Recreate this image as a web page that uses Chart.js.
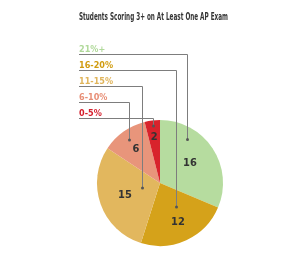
<!DOCTYPE html>
<html>
<head>
<meta charset="utf-8">
<script src="https://cdn.jsdelivr.net/npm/chart.js@4"></script>
<style>
  html, body { margin: 0; padding: 0; background: #fff; }
  #wrap { position: relative; width: 300px; height: 256px; }
</style>
</head>
<body>
<div id="wrap"><canvas id="pie-chart" width="300" height="256"></canvas></div>
<script>
// data
const title = "Students Scoring 3+ on At Least One AP Exam";
const categories = ["21%+", "16-20%", "11-15%", "6-10%", "0-5%"];
const counts = [16, 12, 15, 6, 2];
const colors = ["#b6dc9f", "#d5a21a", "#e2b75e", "#e8957b", "#d8232c"];
const labelColors = ["#b0d99a", "#d19c10", "#e0b45a", "#e88f76", "#d51f2d"];

// where each leader line lands inside its slice (fraction of slice angle, fraction of radius)
const leaderAngle = [0.28, 0.39, 0.54, 0.49, 0.5];
const leaderRadius = [0.81, 0.46, 0.30, 0.84, 0.91];
// radius fraction for the value labels
const valueRadius = [0.57, 0.68, 0.59, 0.66, 0.74];

const condensed = "'Liberation Sans Narrow', 'DejaVu Sans Condensed', sans-serif";

const overlay = {
    id: "overlay",
    afterDraw(chart) {
        const ctx = chart.ctx;
        const meta = chart.getDatasetMeta(0);
        ctx.save();

        // title
        ctx.fillStyle = "#353535";
        ctx.font = "bold 11px " + condensed;
        ctx.textAlign = "left";
        ctx.textBaseline = "alphabetic";
        ctx.fillText(title, 79, 19.5, 149);

        meta.data.forEach((arc, i) => {
            const p = arc.getProps(["x", "y", "startAngle", "endAngle", "outerRadius"], true);
            // value label
            const mid = (p.startAngle + p.endAngle) / 2;
            const rv = p.outerRadius * valueRadius[i];
            ctx.fillStyle = "#333";
            ctx.font = "bold 11px " + condensed;
            ctx.textAlign = "center";
            ctx.textBaseline = "middle";
            ctx.fillText(String(counts[i]), p.x + Math.cos(mid) * rv, p.y + Math.sin(mid) * rv);

            // leader line
            const a = p.startAngle + (p.endAngle - p.startAngle) * leaderAngle[i];
            const rl = p.outerRadius * leaderRadius[i];
            const dx = p.x + Math.cos(a) * rl;
            const dy = p.y + Math.sin(a) * rl;
            const ly = 54 + i * 16;
            ctx.strokeStyle = "#7d7d7d";
            ctx.lineWidth = 1;
            ctx.beginPath();
            ctx.moveTo(79, ly + 0.5);
            ctx.lineTo(Math.round(dx) + 0.5, ly + 0.5);
            ctx.lineTo(Math.round(dx) + 0.5, dy);
            ctx.stroke();
            ctx.fillStyle = "#555";
            ctx.beginPath();
            ctx.arc(Math.round(dx) + 0.5, dy, 1.5, 0, Math.PI * 2);
            ctx.fill();

            // category text
            ctx.fillStyle = labelColors[i];
            ctx.font = "bold 9px " + condensed;
            ctx.textAlign = "left";
            ctx.textBaseline = "alphabetic";
            ctx.fillText(categories[i], 79, ly - 2.5);
        });
        ctx.restore();
    }
};

const ctx = document.getElementById("pie-chart").getContext("2d");
new Chart(ctx, {
    type: "pie",
    data: {
        labels: categories,
        datasets: [{
            data: counts,
            backgroundColor: colors,
            borderWidth: 0,
        }],
    },
    options: {
        responsive: false,
        animation: false,
        layout: {
            padding: { left: 97, right: 77, top: 120, bottom: 10 },
        },
        plugins: {
            legend: { display: false },
            tooltip: { enabled: false },
        },
    },
    plugins: [overlay],
});
</script>
</body>
</html>
